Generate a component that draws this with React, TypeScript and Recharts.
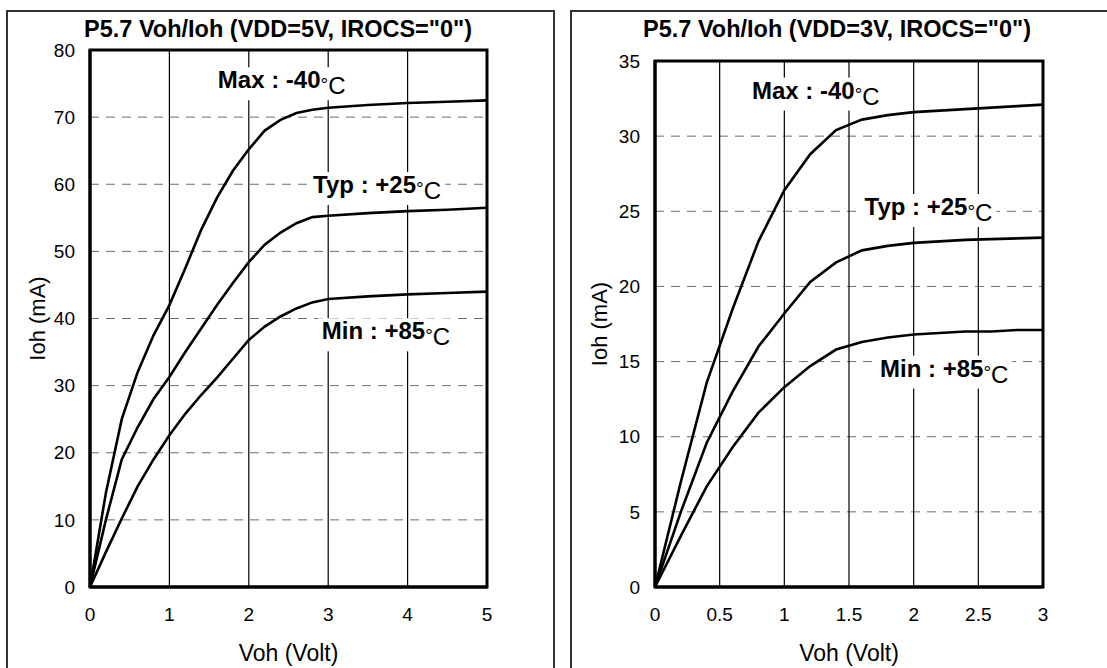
import React from "react";
import {
  LineChart,
  Line,
  XAxis,
  YAxis,
  CartesianGrid,
  ReferenceArea,
  ReferenceDot,
} from "recharts";

const FONT = "'Liberation Sans', Arial, Helvetica, sans-serif";

// VDD = 5V
const volts5 = [0, 0.2, 0.4, 0.6, 0.8, 1.0, 1.2, 1.4, 1.6, 1.8, 2.0, 2.2, 2.4, 2.6, 2.8, 3.0, 3.5, 4.0, 4.5, 5.0];
const max5 = [0, 14, 25, 32, 37.5, 42, 47.5, 53.2, 58, 62, 65.2, 68, 69.6, 70.6, 71.1, 71.4, 71.8, 72.1, 72.3, 72.5];
const typ5 = [0, 10, 19, 23.8, 28, 31.3, 35, 38.5, 42, 45.3, 48.4, 51, 52.8, 54.2, 55.1, 55.3, 55.7, 56.0, 56.2, 56.5];
const min5 = [0, 5.2, 10.2, 15, 19, 22.6, 25.8, 28.6, 31.2, 34, 36.8, 38.8, 40.3, 41.5, 42.4, 42.9, 43.3, 43.6, 43.8, 44.0];
const xTicks5 = [0, 1, 2, 3, 4, 5];
const yTicks5 = [0, 10, 20, 30, 40, 50, 60, 70, 80];

// VDD = 3V
const volts3 = [0, 0.2, 0.4, 0.6, 0.8, 1.0, 1.2, 1.4, 1.6, 1.8, 2.0, 2.2, 2.4, 2.6, 2.8, 3.0];
const max3 = [0, 7, 13.6, 18.5, 23, 26.4, 28.8, 30.4, 31.1, 31.4, 31.6, 31.7, 31.8, 31.9, 32.0, 32.1];
const typ3 = [0, 5, 9.6, 13, 16.0, 18.2, 20.3, 21.6, 22.4, 22.7, 22.9, 23.0, 23.1, 23.15, 23.2, 23.25];
const min3 = [0, 3.4, 6.7, 9.3, 11.6, 13.3, 14.7, 15.8, 16.3, 16.6, 16.8, 16.9, 17.0, 17.0, 17.1, 17.1];
const xTicks3 = [0, 0.5, 1, 1.5, 2, 2.5, 3];
const yTicks3 = [0, 5, 10, 15, 20, 25, 30, 35];

// curve labels: text, anchor (volt, mA) at text start / baseline
const labels5 = [
  { text: "Max : -40", v: 1.61, i: 74.3 },
  { text: "Typ : +25", v: 2.81, i: 58.7 },
  { text: "Min : +85", v: 2.92, i: 36.9 },
];
const labels3 = [
  { text: "Max : -40", v: 0.75, i: 32.5 },
  { text: "Typ : +25", v: 1.62, i: 24.75 },
  { text: "Min : +85", v: 1.74, i: 14.0 },
];

const buildRows = (v: number[], mx: number[], ty: number[], mn: number[]) =>
  v.map((x, k) => ({ v: x, max: mx[k], typ: ty[k], min: mn[k] }));

const tempLabel = (text: string) => (p: any) => {
  const { cx, cy } = p;
  return (
    <g>
      <rect x={cx - 4} y={cy - 21} width={136} height={33} fill="#fff" />
      <text x={cx} y={cy} fontFamily={FONT} fontSize={24} fontWeight="bold" fill="#000">
        {text}
        <tspan fontSize={19} fontWeight="normal" dy={2.5}>°</tspan>
        <tspan fontSize={24} fontWeight="normal" dy={3.5}>C</tspan>
      </text>
    </g>
  );
};

type ChartProps = {
  left: number;
  width: number;
  title: string;
  titleX: number;
  data: any[];
  xMax: number;
  yMax: number;
  xTicks: number[];
  yTicks: number[];
  labels: { text: string; v: number; i: number }[];
  marginLeft: number;
  marginRight: number;
  marginTop: number;
  yLabelX: number;
};

function VohChart(c: ChartProps) {
  const tick = { fill: "#000", fontSize: 19, fontFamily: FONT };
  return (
    <div style={{ position: "absolute", left: c.left, top: 0, width: c.width, height: 668 }}>
      <div
        style={{
          position: "absolute",
          left: c.titleX - c.left - 250,
          width: 500,
          top: 18,
          textAlign: "center",
          fontFamily: FONT,
          fontWeight: "bold",
          fontSize: 23.5,
          lineHeight: "23.5px",
          whiteSpace: "nowrap",
        }}
      >
        {c.title}
      </div>
      <LineChart
        width={c.width}
        height={668}
        data={c.data}
        margin={{ top: c.marginTop, right: c.marginRight, bottom: 21, left: c.marginLeft }}
      >
        <CartesianGrid horizontal vertical={false} stroke="#6e6e6e" strokeDasharray="9 7" />
        <CartesianGrid horizontal={false} vertical stroke="#000" strokeWidth={1.2} />
        <XAxis
          dataKey="v"
          type="number"
          domain={[0, c.xMax]}
          ticks={c.xTicks}
          interval={0}
          height={60}
          axisLine={{ stroke: "#000", strokeWidth: 3 }}
          tickLine={false}
          tickSize={0}
          tickMargin={21}
          tick={tick}
          label={(p: any) => {
            const vb = p.viewBox;
            return (
              <text
                x={vb.x + vb.width / 2}
                y={661}
                textAnchor="middle"
                fontFamily={FONT}
                fontSize={23}
                fill="#000"
              >
                Voh (Volt)
              </text>
            );
          }}
        />
        <YAxis
          type="number"
          domain={[0, c.yMax]}
          ticks={c.yTicks}
          interval={0}
          width={60}
          axisLine={{ stroke: "#000", strokeWidth: 3 }}
          tickLine={false}
          tickSize={0}
          tickMargin={15}
          tick={tick}
          label={(p: any) => {
            const vb = p.viewBox;
            const cy = vb.y + vb.height / 2;
            return (
              <text
                x={c.yLabelX}
                y={cy}
                transform={`rotate(-90, ${c.yLabelX}, ${cy})`}
                textAnchor="middle"
                fontFamily={FONT}
                fontSize={22}
                fill="#000"
              >
                Ioh (mA)
              </text>
            );
          }}
        />
        <ReferenceArea
          x1={0}
          x2={c.xMax}
          y1={0}
          y2={c.yMax}
          fill="none"
          fillOpacity={0}
          stroke="#000"
          strokeWidth={3}
        />
        <Line type="linear" dataKey="max" stroke="#000" strokeWidth={2.6} dot={false} isAnimationActive={false} />
        <Line type="linear" dataKey="typ" stroke="#000" strokeWidth={2.6} dot={false} isAnimationActive={false} />
        <Line type="linear" dataKey="min" stroke="#000" strokeWidth={2.6} dot={false} isAnimationActive={false} />
        {c.labels.map((l) => (
          <ReferenceDot key={l.text} x={l.v} y={l.i} r={0} shape={tempLabel(l.text)} />
        ))}
      </LineChart>
    </div>
  );
}

export default function App() {
  const rows5 = buildRows(volts5, max5, typ5, min5);
  const rows3 = buildRows(volts3, max3, typ3, min3);
  const box = {
    position: "absolute" as const,
    top: 10,
    height: 700,
    border: "2px solid #333",
    boxSizing: "border-box" as const,
  };
  return (
    <div
      style={{
        position: "absolute",
        left: 0,
        top: 0,
        width: 1107,
        height: 668,
        overflow: "hidden",
        background: "#fff",
      }}
    >
      <div style={{ ...box, left: 6, width: 549 }} />
      <div style={{ ...box, left: 570, width: 560 }} />
      <VohChart
        left={0}
        width={553}
        title={'P5.7 Voh/Ioh (VDD=5V, IROCS="0")'}
        titleX={278}
        data={rows5}
        xMax={5}
        yMax={80}
        xTicks={xTicks5}
        yTicks={yTicks5}
        labels={labels5}
        marginLeft={30}
        marginRight={66}
        marginTop={50}
        yLabelX={45}
      />
      <VohChart
        left={553}
        width={554}
        title={'P5.7 Voh/Ioh (VDD=3V, IROCS="0")'}
        titleX={837}
        data={rows3}
        xMax={3}
        yMax={35}
        xTicks={xTicks3}
        yTicks={yTicks3}
        labels={labels3}
        marginLeft={42}
        marginRight={64}
        marginTop={61}
        yLabelX={54}
      />
    </div>
  );
}
